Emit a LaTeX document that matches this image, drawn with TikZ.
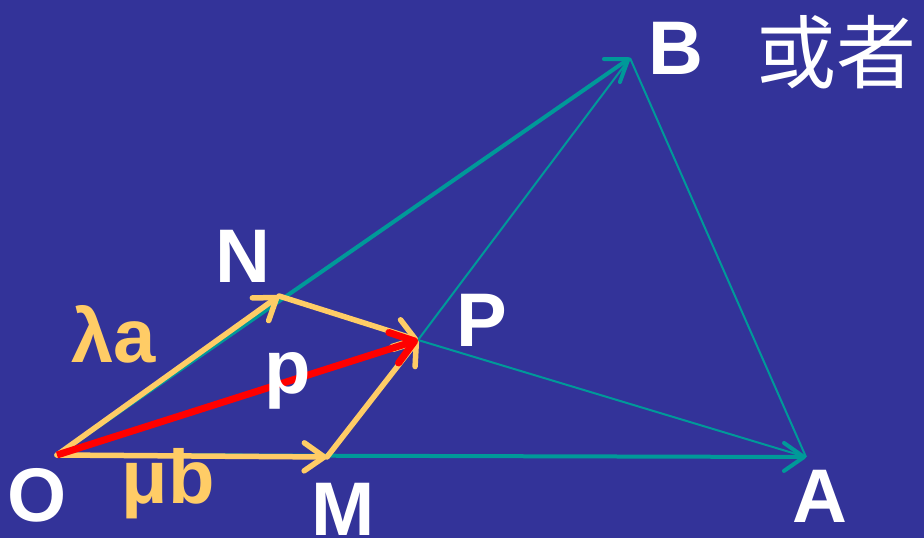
\documentclass[tikz,border=0pt]{standalone}
\usepackage{fontspec}
\setmainfont{Liberation Sans}
\newfontfamily\cjkfont{Noto Sans CJK SC}
\usetikzlibrary{arrows.meta}
\definecolor{bgblue}{RGB}{51,51,153}
\definecolor{tealc}{RGB}{0,153,153}
\definecolor{goldc}{RGB}{255,204,102}
\definecolor{redc}{RGB}{255,0,0}
\begin{document}
\begin{tikzpicture}[x=1pt,y=-1pt,
  lbl/.style={font=\fontsize{76}{76}\selectfont\bfseries, text=white, inner sep=0pt, anchor=base},
  ylbl/.style={lbl, text=goldc},
  barb/.style={-{Straight Barb[length=20pt,width=28pt,round]}},
  tthick/.style={draw=tealc, line width=4pt, barb},
  tthin/.style={draw=tealc, line width=2pt},
  yarrow/.style={draw=goldc, line width=5.5pt, barb, line cap=round},
  rarrow/.style={draw=redc, line width=7pt, -{Straight Barb[length=22pt,width=32pt,round]}}
]
\fill[bgblue] (0,0) rectangle (924,538);
\useasboundingbox (0,0) rectangle (924,538);
% points
\coordinate (O) at (57,455);
\coordinate (M) at (327,457);
\coordinate (N) at (279,296);
\coordinate (P) at (418,340);
\coordinate (A) at (806,457);
\coordinate (B) at (630,58);
% teal lines
\draw[tthin] (P) -- (B);
\draw[tthin] (P) -- (A);
\draw[tthin] (B) -- (A);
\draw[tthick] (O) -- (B);
\draw[tthick] (O) -- (A);
\draw[tthick, line width=3pt] (O) -- (P);
% yellow vectors
\draw[yarrow] (O) -- (N);
\draw[yarrow] (N) -- (P);
\draw[yarrow] (O) -- (M);
\draw[yarrow] (M) -- (P);
% red vector
\draw[rarrow] (O) -- (P);
% labels
\node[lbl] (lO) at (37,521) {O};
\node[lbl] (lM) at (343,535) {M};
\node[lbl] (lN) at (243,282) {N};
\node[lbl] (lP) at (482,346) {P};
\node[lbl] (lA) at (820,522) {A};
\node[lbl] (lB) at (676,74) {B};
\node[lbl] (lp) at (288,393) {p};
\node[ylbl] (la) at (114,362) {λa};
\node[ylbl] (lb) at (168,503) {μb};
\node[inner sep=0pt, anchor=base, text=white, font=\cjkfont\fontsize{80}{80}\selectfont] (lor) at (836,82) {或者};
\end{tikzpicture}
\end{document}
